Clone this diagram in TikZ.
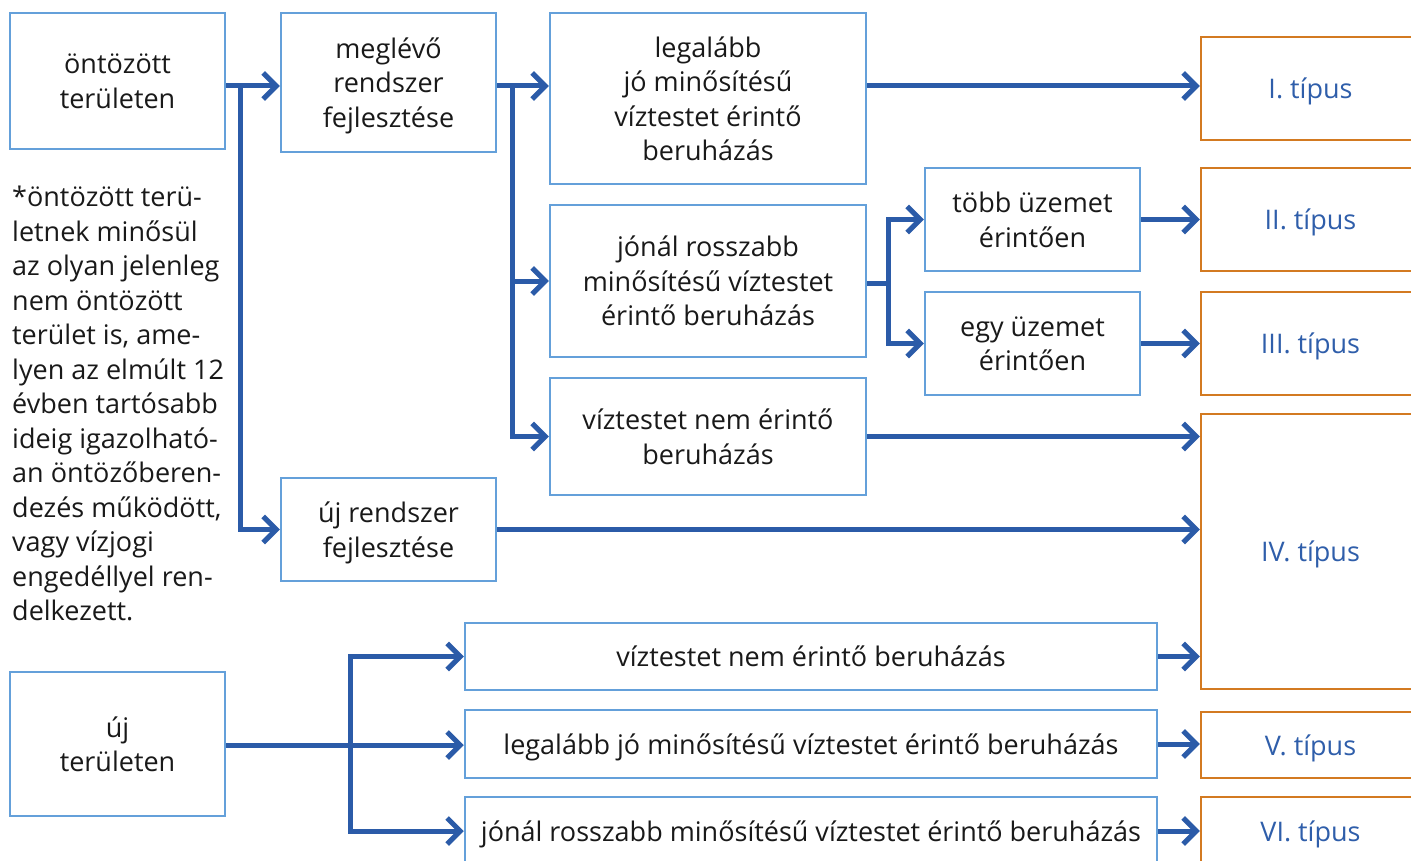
\documentclass[tikz,border=0pt]{standalone}
\usepackage{fontspec}
\setmainfont{Open Sans}
\usetikzlibrary{arrows.meta}
\definecolor{dobozkek}{RGB}{100,160,218}
\definecolor{vonalkek}{RGB}{43,91,168}
\definecolor{narancs}{RGB}{211,122,33}
\definecolor{tipuskek}{RGB}{47,94,170}
\tikzset{
  betu/.style={font=\fontsize{27}{34.5}\selectfont},
  doboz/.style={betu, draw=dobozkek, line width=2.5pt, align=center, inner sep=0pt, text depth=0pt, text=black!90},
  tipdoboz/.style={betu, draw=narancs, line width=2.5pt, inner sep=0pt, text depth=0pt, text=tipuskek},
  vonal/.style={draw=vonalkek, line width=5pt},
  folyam/.style={vonal, -{Straight Barb[length=13pt,width=26pt]}}
}
\begin{document}
\begin{tikzpicture}[x=1pt,y=-1pt]
\useasboundingbox (0,0) rectangle (1411,861);
\clip (0,0) rectangle (1411,861);
% dobozok
\node[doboz, minimum width=215, minimum height=136] (A) at (117.5,81) {öntözött\\területen};
\node[doboz, minimum width=215, minimum height=139] (B) at (388.5,82.5) {meglévő\\rendszer\\fejlesztése};
\node[doboz, minimum width=316, minimum height=171] (C) at (708,98.5) {legalább\\jó minősítésű\\víztestet érintő\\beruházás};
\node[doboz, minimum width=316, minimum height=152] (D) at (708,281) {jónál rosszabb\\minősítésű víztestet\\érintő beruházás};
\node[doboz, minimum width=316, minimum height=117] (E) at (708,436.5) {víztestet nem érintő\\beruházás};
\node[doboz, minimum width=215, minimum height=103] (F) at (1032.5,219.5) {több üzemet\\érintően};
\node[doboz, minimum width=215, minimum height=103] (G) at (1032.5,343.5) {egy üzemet\\érintően};
\node[doboz, minimum width=215, minimum height=103] (H) at (388.5,529.5) {új rendszer\\fejlesztése};
\node[doboz, minimum width=215, minimum height=144] (I) at (117.5,744) {új\\területen};
\node[doboz, minimum width=692, minimum height=67] (J) at (811,656.5) {víztestet nem érintő beruházás};
\node[doboz, minimum width=692, minimum height=68] (K) at (811,744) {legalább jó minősítésű víztestet érintő beruházás};
\node[doboz, minimum width=692, minimum height=68] (L) at (811,831) {jónál rosszabb minősítésű víztestet érintő beruházás};
% tipusok
\node[tipdoboz, minimum width=219, minimum height=103] (T1) at (1310.5,88.5) {I. típus};
\node[tipdoboz, minimum width=219, minimum height=103] (T2) at (1310.5,219.5) {II. típus};
\node[tipdoboz, minimum width=219, minimum height=103] (T3) at (1310.5,343.5) {III. típus};
\node[tipdoboz, minimum width=219, minimum height=275] (T4) at (1310.5,551.5) {IV. típus};
\node[tipdoboz, minimum width=219, minimum height=66] (T5) at (1310.5,745) {V. típus};
\node[tipdoboz, minimum width=219, minimum height=68] (T6) at (1310.5,831) {VI. típus};
% megjegyzes
\node[betu, anchor=north west, align=left, inner sep=0pt, text=black!90] (megj) at (12,186)
  {*öntözött terü-\\letnek minősül\\az olyan jelenleg\\nem öntözött\\terület is, ame-\\lyen az elmúlt 12\\évben tartósabb\\ideig igazolható-\\an öntözőberen-\\dezés működött,\\vagy vízjogi\\engedéllyel ren-\\delkezett.};
% nyilak
\coordinate (jA) at (240,86);
\coordinate (jB) at (512,86);
\coordinate (jD) at (888,283);
\coordinate (jI) at (350,745);
\draw[vonal] (A.east |- jA) -- (jA);
\draw[folyam] (jA) -- (B.west |- jA);
\draw[folyam] (jA) |- (H.west);
\draw[vonal] (B.east |- jB) -- (jB);
\draw[folyam] (jB) -- (C.west |- jB);
\draw[folyam] (jB) |- (D.west);
\draw[folyam] (jB) |- (E.west);
\draw[folyam] (C.east |- jB) -- (T1.west |- jB);
\draw[vonal] (D.east |- jD) -- (jD);
\draw[folyam] (jD) |- (F.west);
\draw[folyam] (jD) |- (G.west);
\draw[folyam] (F.east) -- (T2.west |- F.east);
\draw[folyam] (G.east) -- (T3.west |- G.east);
\draw[folyam] (E.east) -- (T4.west |- E.east);
\draw[folyam] (H.east) -- (T4.west |- H.east);
\draw[folyam] (J.east) -- (T4.west |- J.east);
\draw[vonal] (I.east |- jI) -- (jI);
\draw[folyam] (jI) |- (J.west);
\draw[folyam] (jI) -- (K.west |- jI);
\draw[folyam] (jI) |- (L.west);
\draw[folyam] (K.east) -- (T5.west |- K.east);
\draw[folyam] (L.east) -- (T6.west |- L.east);
\end{tikzpicture}
\end{document}
